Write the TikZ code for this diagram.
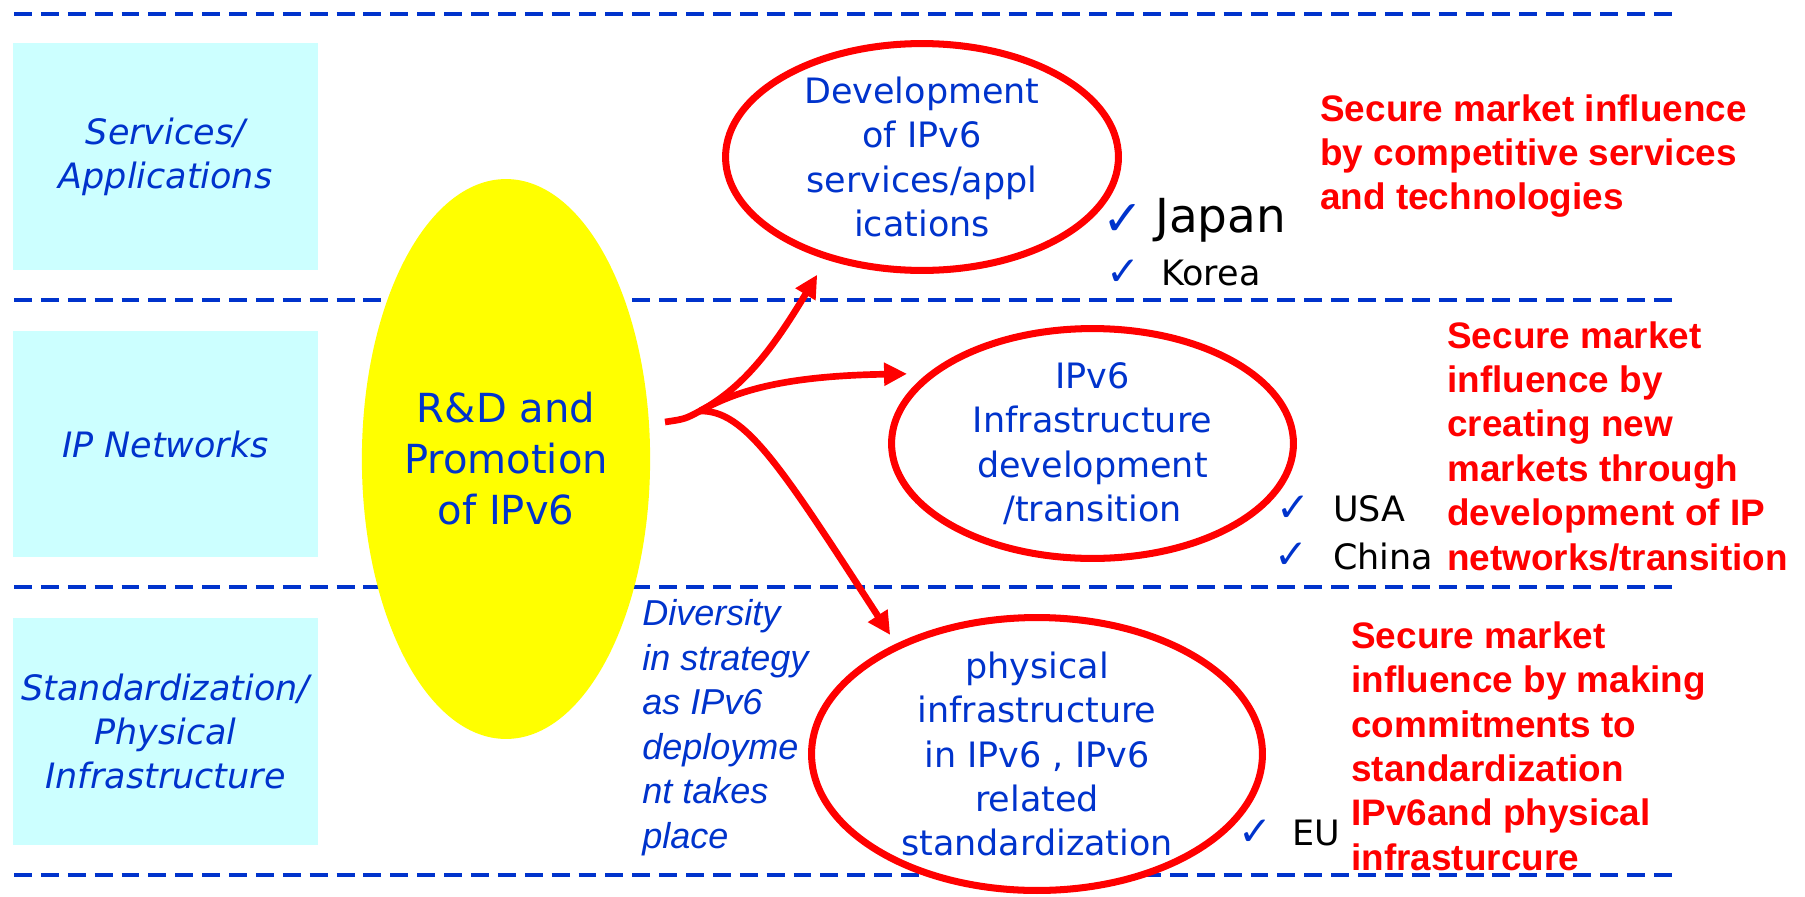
\documentclass[tikz,border=0pt]{standalone}
\usepackage{fontspec}
\usetikzlibrary{arrows.meta,shapes.geometric}
\newfontfamily\dejavu{DejaVu Sans}
\newfontfamily\libsans{Liberation Sans}
\definecolor{ipblue}{HTML}{0033CC}
\definecolor{ipred}{HTML}{FF0000}
\definecolor{lanecyan}{HTML}{CCFFFF}
\definecolor{rdyellow}{HTML}{FFFF00}
\newcommand{\fsz}[2]{\fontsize{#1pt}{#2pt}\selectfont}
\tikzset{
  rowline/.style={draw=ipblue,line width=2.3pt,dash pattern=on 10.2pt off 5.1pt},
  lane/.style={fill=lanecyan,minimum width=6.1cm,minimum height=4.54cm,inner sep=0pt,
    align=center,text=ipblue,font=\dejavu\itshape\fsz{19.9}{25}},
  bubble/.style={ellipse,draw=ipred,fill=white,line width=4pt,inner sep=0pt,
    align=center,text=ipblue,font=\dejavu\fsz{19.9}{25.3}},
  aim/.style={anchor=north west,inner sep=0pt,align=left,text=ipred,
    font=\libsans\bfseries\fsz{21}{25.3}},
  country/.style={anchor=base west,inner sep=0pt,font=\dejavu\fsz{19.9}{24}},
  tick/.style={inner sep=0pt,text=ipblue,font=\dejavu\fsz{23}{24},label distance=0.4cm},
  flow/.style={draw=ipred,line width=3.8pt,-{Triangle[length=0.46cm,width=0.44cm]}}
}

\begin{document}
\begin{tikzpicture}[x=0.02cm,y=-0.02cm]
  \useasboundingbox (0,0) rectangle (1805,896);
  \foreach \ly in {14,300,587,875}
    \draw[rowline] (14,\ly) -- (1678,\ly);
  % layers
  \node[lane] (svc) at (165.5,156.5) {Services/\\Applications};
  \node[lane] (net) at (165.5,444) {IP Networks};
  \node[lane] (std) at (165.5,731.5) {Standardization/\\Physical\\Infrastructure};
  \node[ellipse,fill=rdyellow,minimum width=5.76cm,minimum height=11.2cm,inner sep=0pt,
    align=center,text=ipblue,font=\dejavu\fsz{22.8}{29}] (rd) at (506,459)
    {R\&D and\\Promotion\\of IPv6};
  % targets
  \node[bubble,minimum width=7.86cm,minimum height=4.5cm] (dev) at (922,157)
    {Development\\of IPv6\\services/appl\\ications};
  \node[bubble,minimum width=8.04cm,minimum height=4.52cm] (infra) at (1092.5,443.5)
    {IPv6\\Infrastructure\\development\\/transition};
  \node[bubble,minimum width=9.02cm,minimum height=5.46cm,inner ysep=-0.15cm] (phys) at (1037,754)
    {physical\\infrastructure\\in IPv6 , IPv6\\related\\standardization};
  \node[anchor=north west,inner sep=0pt,align=left,text=ipblue,
    font=\libsans\itshape\fsz{20.5}{25.4}] (div) at (642,599)
    {Diversity\\in strategy\\as IPv6\\deployme\\nt takes\\place};
  % countries
  \node[country,font=\dejavu\fsz{26.7}{30},
    label={[tick,font=\dejavu\fsz{28}{30},label distance=0.22cm]left:✓}] (jp) at (1155,232) {Japan};
  \node[country,label={[tick]left:✓}] (kr) at (1161,285) {Korea};
  \node[country,label={[tick,label distance=0.45cm]left:✓}] (us) at (1333,521) {USA};
  \node[country,label={[tick,label distance=0.48cm]left:✓}] (cn) at (1333,569) {China};
  \node[country,label={[tick,label distance=0.38cm]left:✓}] (eu) at (1292,845) {EU};
  % aims
  \node[aim] (aimsvc) at (1320,94) {Secure market influence\\by competitive services\\and technologies};
  \node[aim] (aimnet) at (1447,321) {Secure market\\influence by\\creating new\\markets through\\development of IP\\networks/transition};
  \node[aim] (aimstd) at (1351,621) {Secure market\\influence by making\\commitments to\\standardization\\IPv6and physical\\infrasturcure};
  % arrows
  \coordinate (stem) at (665,422);
  \coordinate (fork) at (700,411);
  \draw[flow,shorten >=0.35cm] (stem) .. controls (685,419) .. (fork)
    .. controls (745,387) and (775,345) .. (dev.227);
  \draw[flow,shorten >=0.41cm] (fork) .. controls (735,392) and (780,376) .. (infra.157);
  \draw[flow,shorten >=0.21cm] (fork) .. controls (745,410) and (780,465) .. (phys.142);
\end{tikzpicture}
\end{document}
